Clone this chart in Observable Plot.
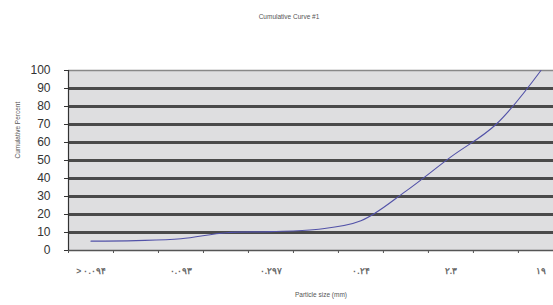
<!DOCTYPE html>
<html>
<head>
<meta charset="utf-8">
<script src="https://cdn.jsdelivr.net/npm/d3@7"></script>
<script src="https://cdn.jsdelivr.net/npm/@observablehq/plot@0.6"></script>
<style>
  html, body { margin: 0; padding: 0; background: #fff; }
  #chart { width: 553px; height: 305px; }
  svg { font-family: "Liberation Sans", Arial, sans-serif; }
</style>
</head>
<body>
<div id="chart"></div>
<script>
// Data
const categoryIndex = [1, 2, 3, 4, 5, 6, 7, 8, 9, 10, 11];
const cumulativePercent = [5.2, 5.5, 6.5, 9.9, 10.5, 11.7, 16.5, 33, 52, 70, 100];
const labeledCategories = [1, 3, 5, 7, 9, 11];
const xTickLabels = ["> ۰.۰۹۴", "۰.۰۹۳", "۰.۲۹۷", "۰.۲۴", "۲.۳", "۱۹"];
const yTicks = [0, 10, 20, 30, 40, 50, 60, 70, 80, 90, 100];
const gridValues = [10, 20, 30, 40, 50, 60, 70, 80, 90];
const categoryBoundaries = [0.5, 1.5, 2.5, 3.5, 4.5, 5.5, 6.5, 7.5, 8.5, 9.5, 10.5];
const chartTitle = "Cumulative Curve #1";
const xTitle = "Particle size (mm)";
const yTitle = "Cumulative Percent";

const data = categoryIndex.map((c, i) => ({x: c, y: cumulativePercent[i]}));
const labelMap = new Map(labeledCategories.map((c, i) => [c, xTickLabels[i]]));

const chart = Plot.plot({
  width: 553,
  height: 305,
  marginLeft: 68,
  marginRight: 0,
  marginTop: 70,
  marginBottom: 55,
  style: {fontFamily: "'Liberation Sans', Arial, sans-serif", background: "#fff", overflow: "visible"},
  x: {domain: [0.5, 11.28], axis: null},
  y: {domain: [0, 100], axis: null},
  marks: [
    Plot.frame({fill: "#dedee0", stroke: null}),
    Plot.ruleY(gridValues, {stroke: "#4a4a4a", strokeWidth: 2.8}),
    Plot.ruleY([100], {stroke: "#888", strokeWidth: 1.5}),
    Plot.ruleY([0], {stroke: "#555", strokeWidth: 1.5}),
    Plot.ruleX([0.5], {stroke: "#333", strokeWidth: 1.2}),
    Plot.axisY({ticks: yTicks, label: null, tickSize: 4, tickPadding: 14, fontSize: 12, color: "#333", anchor: "left"}),
    Plot.axisX({ticks: categoryBoundaries, label: null, tickSize: 3, tickFormat: () => "", stroke: "#555", anchor: "bottom"}),
    Plot.axisX({ticks: labeledCategories, label: null, tickSize: 0, tickPadding: 17, fontSize: 8.5, fontWeight: "bold", fill: "#666", tickFormat: d => labelMap.get(d), anchor: "bottom"}),
    Plot.line(data, {x: "x", y: "y", curve: "catmull-rom", stroke: "#5252a8", strokeWidth: 1.1}),
    Plot.text([chartTitle], {frameAnchor: "top", dx: -22, dy: -56, fontSize: 6.5, fill: "#555"}),
    Plot.text([xTitle], {frameAnchor: "bottom", dx: 10, dy: 46, fontSize: 6.5, fill: "#555"}),
    Plot.text([yTitle], {frameAnchor: "left", dx: -51, dy: -2, rotate: -90, fontSize: 6.5, fill: "#555"})
  ]
});
document.getElementById("chart").appendChild(chart);
</script>
</body>
</html>
